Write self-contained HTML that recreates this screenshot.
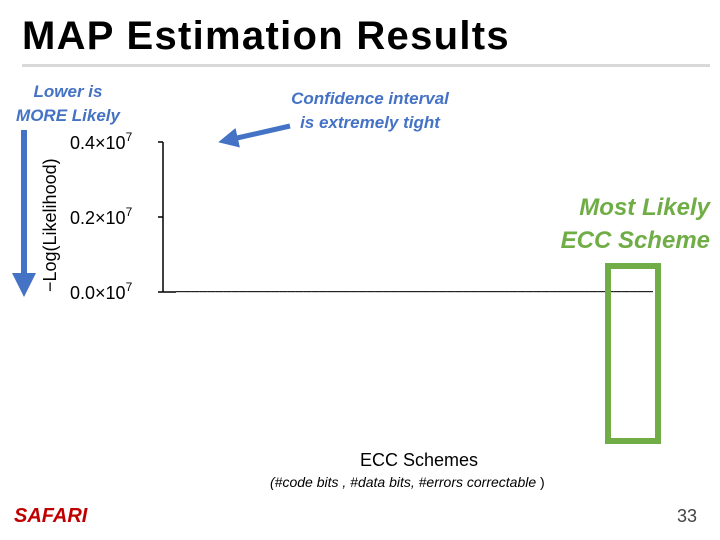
<!DOCTYPE html>
<html><head><meta charset="utf-8"><style>
body{margin:0;width:720px;height:540px;background:#fff;position:relative;overflow:hidden;font-family:"Liberation Sans","DejaVu Sans",sans-serif}
.t{position:absolute;white-space:nowrap}
.blue{color:#4472c4;font-style:italic;font-weight:bold}
</style></head><body>
<div class="t" style="left:22px;top:14px;font-size:40px;font-weight:bold;color:#000;letter-spacing:1.3px">MAP Estimation Results</div>
<div style="position:absolute;left:22px;top:64px;width:688px;height:3px;background:#d9d9d9"></div>
<div class="t blue" style="left:8px;top:80px;width:120px;text-align:center;font-size:17px;line-height:24px">Lower is<br>MORE Likely</div>
<div class="t blue" style="left:270px;top:87px;width:200px;text-align:center;font-size:17px;line-height:24px">Confidence interval<br>is extremely tight</div>
<div class="t" style="left:540px;top:191px;width:170px;text-align:right;font-size:24px;line-height:33px;color:#70ad47;font-style:italic;font-weight:bold">Most Likely<br>ECC Scheme</div>
<div class="t" style="left:360px;top:450px;font-size:18px">ECC Schemes</div>
<div class="t" style="left:270px;top:474px;font-size:14px"><i>(#code bits , #data bits, #errors correctable </i>)</div>
<div class="t" style="left:14px;top:505px;font-size:20px;font-weight:bold;font-style:italic;color:#c00000">SAFARI</div>
<div class="t" style="left:677px;top:506px;font-size:18px;color:#444">33</div>
<svg id="chart" width="720" height="540" style="position:absolute;left:0;top:0">
<defs><marker id="ah" markerWidth="4" markerHeight="4" refX="2" refY="2" orient="auto"><path d="M0,0L4,2L0,4z" fill="#4472c4"/></marker></defs>
<line x1="24" y1="130" x2="24" y2="285" stroke="#4472c4" stroke-width="6" marker-end="url(#ah)"/>
<line x1="290" y1="126" x2="228" y2="140" stroke="#4472c4" stroke-width="5" marker-end="url(#ah)"/>
<text transform="translate(56,292) rotate(-90)" font-size="18" fill="#000">−Log(Likelihood)</text>
<g id="axes"></g>
<g id="marks"></g>
<rect x="608" y="266" width="50" height="175" fill="none" stroke="#70ad47" stroke-width="6"/>
</svg>
<script>
const categories=[];for(let i=0;i<60;i++)categories.push('s'+i);
const values=[];for(let i=0;i<60;i++)values.push(0);
const yTicks=[0,0.2,0.4];
const yTickLabels=['0.0×10','0.2×10','0.4×10'];
const y0=292,y1=142,yMax=0.4;
const x0=176,x1=653;
const ys=v=>y0-(v/yMax)*(y0-y1);
const xs=i=>x0+(i+0.5)*(x1-x0)/categories.length;
const ns='http://www.w3.org/2000/svg';
const ax=document.getElementById('axes'),mk=document.getElementById('marks');
function mkEl(t,a){const e=document.createElementNS(ns,t);for(const k in a)e.setAttribute(k,a[k]);return e;}
let yl=mkEl('line',{x1:163,y1:ys(yMax),x2:163,y2:y0,stroke:'#000','stroke-width':1.5});


ax.appendChild(yl);
yTicks.forEach((v,i)=>{
 const tk=mkEl('line',{x1:158,y1:ys(v),x2:163,y2:ys(v),stroke:'#000','stroke-width':1.5});
 
 
 ax.appendChild(tk);
 const tx=mkEl('text',{x:70,y:ys(v)+7,'font-size':18,fill:'#000'});
 tx.textContent=yTickLabels[i];
 const sp=mkEl('tspan',{dy:-8,'font-size':12});sp.textContent='7';tx.appendChild(sp);
 
 
 ax.appendChild(tx);
});
let zl=mkEl('line',{x1:163,y1:y0,x2:176,y2:y0,stroke:'#000','stroke-width':1.5});


ax.appendChild(zl);
const w=(x1-x0)/categories.length;
values.forEach((v,i)=>{
 const r=mkEl('rect',{x:xs(i)-w/2,y:ys(v)-1,width:w,height:Math.max(1.2,y0-ys(v)+1),fill:'#222'});
 
 
 mk.appendChild(r);
});
</script>
</body></html>
